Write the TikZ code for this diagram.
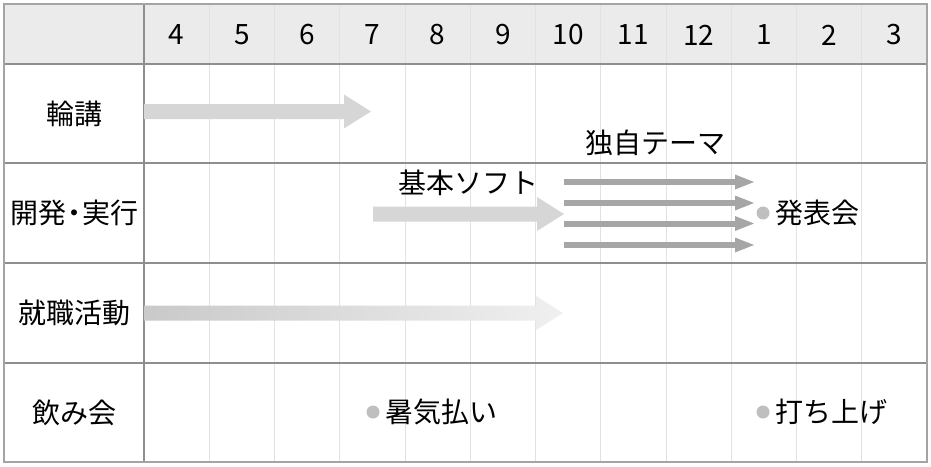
\documentclass[tikz,border=0pt]{standalone}
\usepackage{fontspec}
\setmainfont{Noto Sans CJK JP}
\usetikzlibrary{arrows.meta,calc}
\definecolor{headgray}{HTML}{EBEBEB}
\definecolor{gridgray}{HTML}{E2E2E2}
\definecolor{rulegray}{HTML}{8E8E8E}
\definecolor{bargray}{HTML}{D6D6D6}
\definecolor{themegray}{HTML}{A6A6A6}
\definecolor{dotgray}{HTML}{BFBFBF}

% block arrow between two named points on one row
\newcommand{\blockarrow}[3]{%
  \path[#1] ($(#2)+(0,-7.5)$) -- ($(#3)+(-27,-7.5)$) -- ($(#3)+(-27,-17)$) -- (#3)
    -- ($(#3)+(-27,17)$) -- ($(#3)+(-27,7.5)$) -- ($(#2)+(0,7.5)$) -- cycle;}

\begin{document}
\begin{tikzpicture}[x=1pt,y=-1pt,
    font=\fontsize{28}{33}\selectfont,
    themearrow/.style={themegray, line width=6pt,
      -{Triangle[length=19pt,width=15pt,line width=0pt]}},
    event/.style={anchor=west, inner sep=0pt}]
    \useasboundingbox (0,0) rectangle (931,466);
    \fill[headgray] (4,4) rectangle (927,64);
    \foreach \i in {1,...,11}
        \draw[gridgray, line width=1pt] ({144+65.25*\i},4) -- ({144+65.25*\i},462);
    \foreach \y in {64,163,263,363}
        \draw[rulegray, line width=1.2pt] (4,\y) -- (927,\y);
    \draw[rulegray, line width=1.2pt] (144,4) -- (144,462);
    \draw[rulegray!80, line width=1.5pt] (4,4) rectangle (927,462);
    % months
    \foreach \m [count=\i] in {4,...,12,1,2,3}
        \node (m\i) at ({144+65.25*(\i-0.5)},35) {\m};
    % rows
    \node (r1) at (74,113.5) {輪講};
    \node (r2) at (74,213) {開発{\kern-6pt}・{\kern-6pt}実行};
    \node (r3) at (74,313) {就職活動};
    \node (r4) at (74,412.5) {飲み会};
    % arrows
    \coordinate (a1s) at (144,111.5);
    \coordinate (a1e) at (371,111.5);
    \blockarrow{fill=bargray}{a1s}{a1e}
    \coordinate (a2s) at (373,214);
    \coordinate (a2e) at (564,214);
    \blockarrow{fill=bargray}{a2s}{a2e}
    \node (soft) at (468,183) {基本ソフト};
    \coordinate (a3s) at (144,313);
    \coordinate (a3e) at (563,313);
    \blockarrow{left color=black!21, right color=black!6}{a3s}{a3e}
    \node (theme) at (655,143) {独自テーマ};
    \foreach \y [count=\i] in {182,203,223.5,245} {
        \coordinate (t\i s) at (564,\y);
        \coordinate (t\i e) at (754,\y);
        \draw[themearrow] (t\i s) -- (t\i e);
    }
    % events
    \node[event] (e1) at (775,213) {発表会};
    \fill[dotgray] ($(e1.west)+(-12,0)$) circle (6.5);
    \node[event] (e2) at (385,412) {暑気払い};
    \fill[dotgray] ($(e2.west)+(-12,0)$) circle (6.5);
    \node[event] (e3) at (775,412) {打ち上げ};
    \fill[dotgray] ($(e3.west)+(-12,0)$) circle (6.5);
\end{tikzpicture}
\end{document}
